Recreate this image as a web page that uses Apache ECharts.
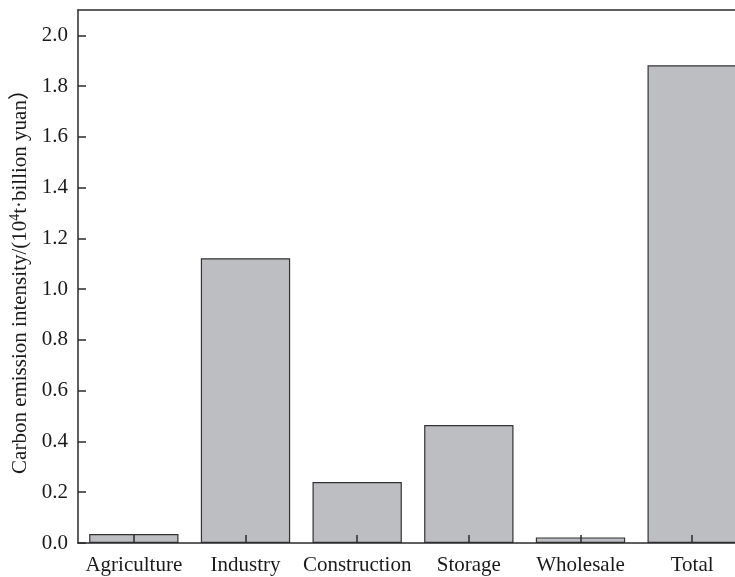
<!DOCTYPE html>
<html>
<head>
<meta charset="utf-8">
<script src="https://cdn.jsdelivr.net/npm/echarts@6/dist/echarts.min.js"></script>
<style>
  html, body { margin: 0; padding: 0; background: #fff; }
  #chart { width: 735px; height: 577px; }
</style>
</head>
<body>
<div id="chart"></div>
<script>
// Sector names along the bottom axis
const categories = ['Agriculture', 'Industry', 'Construction', 'Storage', 'Wholesale', 'Total'];
// Carbon emission intensity per sector (10^4 t / billion yuan)
const intensity = [0.035, 1.122, 0.24, 0.465, 0.022, 1.882];
// Value axis range and step
const yMin = 0;
const yMax = 2.1;
const yStep = 0.2;

const font = '"Liberation Serif", "Times New Roman", "Noto Sans CJK SC", serif';
const ink = '#2b2b2b';

const chart = echarts.init(document.getElementById('chart'), null, { renderer: 'canvas' });

chart.setOption({
  animation: false,
  backgroundColor: '#fff',
  // the plot runs past the right edge of the canvas, so the last band is cut off
  grid: {
    left: 78, top: 10, width: 670, height: 533,
    containLabel: false,
    outerBoundsMode: 'none'
  },
  xAxis: [
    {
      type: 'category',
      data: categories,
      position: 'bottom',
      z: 5,
      axisLine: { lineStyle: { color: ink, width: 1.5 } },
      axisTick: { show: true, inside: true, alignWithLabel: true, length: 8, lineStyle: { color: ink, width: 1.5 } },
      axisLabel: { color: '#1a1a1a', fontFamily: font, fontSize: 21, margin: 12, interval: 0 },
      splitLine: { show: false }
    },
    {
      type: 'category',
      data: categories,
      position: 'top',
      z: 5,
      axisLine: { lineStyle: { color: ink, width: 1.5 } },
      axisTick: { show: false },
      axisLabel: { show: false },
      splitLine: { show: false }
    }
  ],
  yAxis: {
    type: 'value',
    min: yMin,
    max: yMax,
    interval: yStep,
    z: 5,
    name: 'Carbon emission intensity/(10{sup|4}t·billion yuan\uFF09',
    nameLocation: 'middle',
    nameGap: 44,
    nameTextStyle: {
      color: '#1a1a1a',
      fontFamily: font,
      fontSize: 21,
      rich: {
        sup: { fontFamily: font, fontSize: 14, color: '#1a1a1a', padding: [0, 0, 10, 0] }
      }
    },
    axisLine: { show: true, lineStyle: { color: ink, width: 1.5 } },
    axisTick: { show: true, inside: true, length: 8, lineStyle: { color: ink, width: 1.5 } },
    axisLabel: {
      color: '#1a1a1a',
      fontFamily: font,
      fontSize: 21,
      margin: 10,
      showMaxLabel: false,
      formatter: v => v.toFixed(1)
    },
    splitLine: { show: false }
  },
  series: [
    {
      type: 'bar',
      data: intensity,
      barWidth: '80%',
      itemStyle: { color: '#bdbec2', borderColor: '#333', borderWidth: 1.2 }
    }
  ]
});
</script>
</body>
</html>
